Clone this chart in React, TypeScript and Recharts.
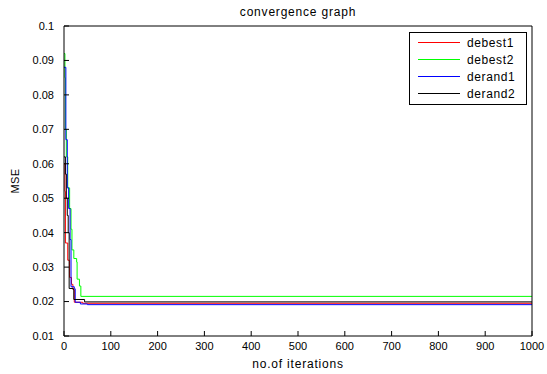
import React from 'react';
import { LineChart, Line, XAxis, YAxis, Legend } from 'recharts';

// MSE per iteration for each DE variant (step curves, value held until the next point)
const debest1 = [
  { it: 0, mse: 0.06 }, { it: 2, mse: 0.052 }, { it: 3, mse: 0.037 }, { it: 8, mse: 0.032 },
  { it: 12, mse: 0.027 }, { it: 16, mse: 0.025 }, { it: 19, mse: 0.0235 }, { it: 22, mse: 0.0198 },
  { it: 40, mse: 0.0195 }, { it: 1000, mse: 0.0195 },
];
const debest2 = [
  { it: 0, mse: 0.092 }, { it: 2, mse: 0.085 }, { it: 3, mse: 0.07 }, { it: 5, mse: 0.062 },
  { it: 8, mse: 0.053 }, { it: 12, mse: 0.047 }, { it: 15, mse: 0.041 }, { it: 17, mse: 0.035 },
  { it: 21, mse: 0.0325 }, { it: 27, mse: 0.0315 }, { it: 28, mse: 0.0265 }, { it: 33, mse: 0.0245 },
  { it: 36, mse: 0.0215 }, { it: 1000, mse: 0.0214 },
];
const derand1 = [
  { it: 0, mse: 0.088 }, { it: 4, mse: 0.067 }, { it: 7, mse: 0.053 }, { it: 10, mse: 0.047 },
  { it: 13, mse: 0.038 }, { it: 15, mse: 0.0243 }, { it: 22, mse: 0.0237 }, { it: 24, mse: 0.0198 },
  { it: 35, mse: 0.0193 }, { it: 50, mse: 0.0191 }, { it: 1000, mse: 0.0191 },
];
const derand2 = [
  { it: 0, mse: 0.062 }, { it: 3, mse: 0.057 }, { it: 5, mse: 0.05 }, { it: 7, mse: 0.045 },
  { it: 9, mse: 0.04 }, { it: 11, mse: 0.0238 }, { it: 20, mse: 0.0235 }, { it: 21, mse: 0.0206 },
  { it: 44, mse: 0.0199 }, { it: 1000, mse: 0.0198 },
];

const X_TICKS = [0, 100, 200, 300, 400, 500, 600, 700, 800, 900, 1000];
const Y_TICKS = [0.01, 0.02, 0.03, 0.04, 0.05, 0.06, 0.07, 0.08, 0.09, 0.1];

const FONT = '"Liberation Sans", Arial, sans-serif';
const tickStyle = { fill: '#000', fontSize: 11, fontFamily: FONT };

const MatlabLegend = ({ payload }: any) => (
  <div
    style={{
      width: 118, height: 73, border: '1px solid #000', background: '#fff',
      boxSizing: 'border-box', padding: '1px 0 0 8px', fontFamily: FONT, fontSize: 12,
      letterSpacing: 0.6,
    }}
  >
    {(payload || []).map((p: any) => (
      <div key={p.value} style={{ display: 'flex', alignItems: 'center', height: 17 }}>
        <svg width={42} height={3}>
          <line x1={0} x2={42} y1={1.5} y2={1.5} stroke={p.color} strokeWidth={1} />
        </svg>
        <span style={{ marginLeft: 7, color: '#000' }}>{p.value}</span>
      </div>
    ))}
  </div>
);

export default function App() {
  return (
    <div style={{ position: 'absolute', left: 0, top: 0, width: 547, height: 374, background: '#fff' }}>
      <LineChart width={547} height={374} margin={{ top: 0, right: 0, bottom: 0, left: 0 }}>
        <XAxis
          xAxisId="bottom"
          dataKey="it"
          type="number"
          domain={[0, 1000]}
          ticks={X_TICKS}
          allowDataOverflow
          height={38}
          tickSize={-5}
          tickMargin={11}
          tick={tickStyle}
          stroke="#000"
          label={(props: any) => {
            const vb = props.viewBox;
            return (
              <text x={vb.x + vb.width / 2} y={368} textAnchor="middle" fontSize={12} letterSpacing={0.8} fontFamily={FONT} fill="#000">
                no.of iterations
              </text>
            );
          }}
        />
        <XAxis
          xAxisId="top"
          orientation="top"
          type="number"
          domain={[0, 1000]}
          ticks={X_TICKS}
          height={26}
          tickSize={-5}
          tickFormatter={() => ''}
          stroke="#000"
          label={(props: any) => {
            const vb = props.viewBox;
            return (
              <text x={vb.x + vb.width / 2} y={16} textAnchor="middle" fontSize={12} letterSpacing={0.8} fontFamily={FONT} fill="#000">
                convergence graph
              </text>
            );
          }}
        />
        <YAxis
          yAxisId="left"
          type="number"
          domain={[0.01, 0.1]}
          ticks={Y_TICKS}
          allowDataOverflow
          width={64}
          tickSize={-5}
          tickMargin={15}
          tick={tickStyle}
          tickFormatter={(v: number) => String(+v.toFixed(2))}
          stroke="#000"
          label={(props: any) => {
            const vb = props.viewBox;
            const cx = 19;
            const cy = vb.y + vb.height / 2;
            return (
              <text x={cx} y={cy} transform={`rotate(-90 ${cx} ${cy})`} textAnchor="middle" fontSize={11} letterSpacing={0.3} fontFamily={FONT} fill="#000">
                MSE
              </text>
            );
          }}
        />
        <YAxis
          yAxisId="right"
          orientation="right"
          type="number"
          domain={[0.01, 0.1]}
          ticks={Y_TICKS}
          width={15}
          tickSize={-5}
          tickFormatter={() => ''}
          stroke="#000"
        />
        <Legend
          layout="vertical"
          align="center"
          verticalAlign="middle"
          wrapperStyle={{ left: 409, top: 32, width: 118, height: 73 }}
          content={<MatlabLegend />}
        />
        <Line xAxisId="bottom" yAxisId="left" data={debest1} dataKey="mse" name="debest1" type="stepAfter" stroke="#ff0000" strokeWidth={1} dot={false} isAnimationActive={false} />
        <Line xAxisId="bottom" yAxisId="left" data={debest2} dataKey="mse" name="debest2" type="stepAfter" stroke="#00ff00" strokeWidth={1} dot={false} isAnimationActive={false} />
        <Line xAxisId="bottom" yAxisId="left" data={derand1} dataKey="mse" name="derand1" type="stepAfter" stroke="#0000ff" strokeWidth={1} dot={false} isAnimationActive={false} />
        <Line xAxisId="bottom" yAxisId="left" data={derand2} dataKey="mse" name="derand2" type="stepAfter" stroke="#000000" strokeWidth={1} dot={false} isAnimationActive={false} />
      </LineChart>
    </div>
  );
}
